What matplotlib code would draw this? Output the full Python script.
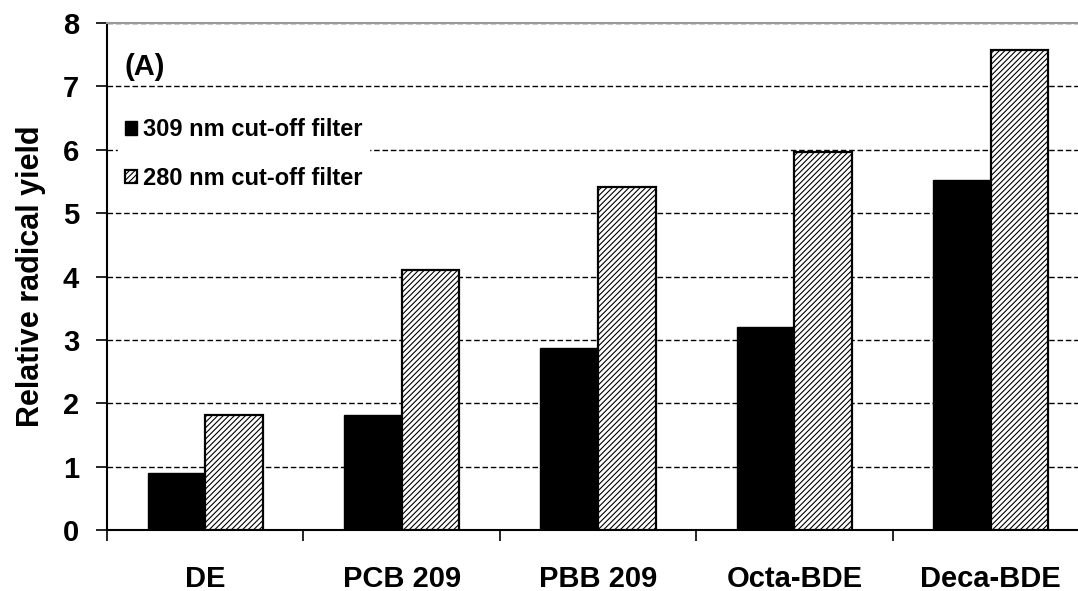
import numpy as np
import matplotlib
matplotlib.use("Agg")
import matplotlib.pyplot as plt

categories = ["DE", "PCB 209", "PBB 209", "Octa-BDE", "Deca-BDE"]
filter_309 = [0.90, 1.81, 2.87, 3.20, 5.53]
filter_280 = [1.81, 4.11, 5.42, 5.97, 7.58]

plt.rcParams['font.family'] = ['Liberation Sans', 'DejaVu Sans']
plt.rcParams['font.weight'] = 'bold'
plt.rcParams['hatch.linewidth'] = 0.8

fig = plt.figure(figsize=(10.78, 5.91), dpi=100)
# axes run a little past the right edge (the original is cropped there)
ax = fig.add_axes([107 / 1078, 61 / 591, 982 / 1078, 507 / 591])

x = np.arange(len(categories))
w = 0.293
ax.bar(x - w / 2, filter_309, w, color="black", edgecolor="black", linewidth=1,
       label="309 nm cut-off filter", zorder=3)
ax.bar(x + w / 2, filter_280, w, color="white", edgecolor="black", linewidth=1.6,
       hatch="//////", label="280 nm cut-off filter", zorder=3)

ax.set_xlim(-0.5, len(categories) - 0.5)
ax.set_ylim(0, 8)
ax.set_yticks(range(0, 9))
ax.yaxis.grid(True, linestyle=(0, (4, 2)), color="black", linewidth=1)
ax.set_axisbelow(True)

ax.set_xticks(x)
ax.set_xticklabels(categories, fontsize=21, fontweight="bold")
ax.set_xticks(np.arange(-0.5, len(categories)), minor=True)
ax.tick_params(axis="x", which="major", length=0, pad=25)
ax.tick_params(axis="x", which="minor", length=8, width=1.2, direction="out")
ax.tick_params(axis="y", labelsize=21, length=8, width=1.2, direction="out", pad=12)
for t in ax.get_yticklabels():
    t.set_fontweight("bold")

ax.spines["right"].set_visible(False)
ax.spines["top"].set_color("#999999")
ax.spines["top"].set_linewidth(1.5)
ax.spines["left"].set_linewidth(1.5)
ax.spines["bottom"].set_linewidth(1.5)

ax.set_ylabel("Relative radical yield", fontsize=22, fontweight="bold", labelpad=12)
ax.text(18 / 982, 0.913, "(A)", transform=ax.transAxes, fontsize=21, fontweight="bold",
        va="center", ha="left")

leg = ax.legend(loc="upper left", bbox_to_anchor=(0.011, 0.826), frameon=True,
                fancybox=False, edgecolor="white", framealpha=1,
                prop={"size": 17, "weight": "bold"}, handlelength=0.5,
                handleheight=0.5, handletextpad=0.25, labelspacing=1.08,
                borderpad=0.3, borderaxespad=0)

fig.savefig("out.png", dpi=100)
